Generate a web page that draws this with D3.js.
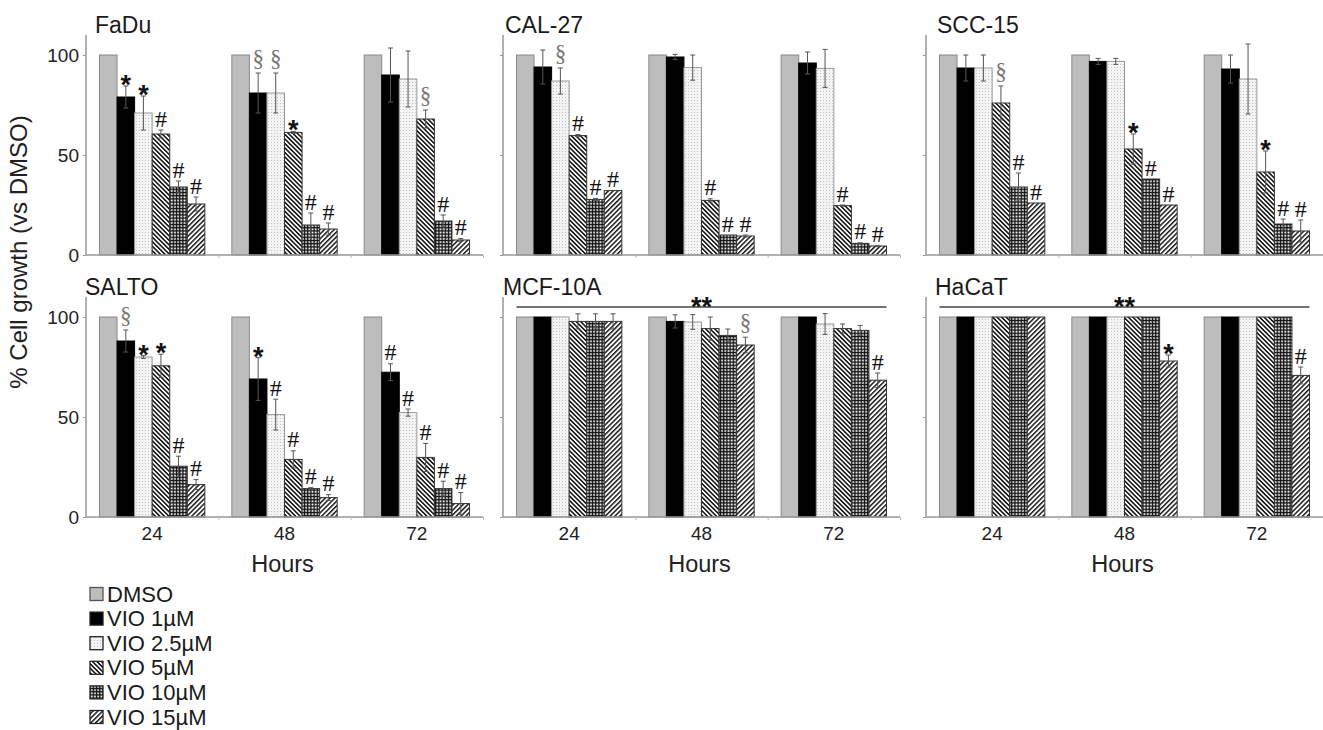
<!DOCTYPE html>
<html>
<head>
<meta charset="utf-8">
<script src="https://cdn.jsdelivr.net/npm/d3@7"></script>
<style>
html,body{margin:0;padding:0;background:#fff;}
svg{display:block;font-family:"Liberation Sans",Arial,Helvetica,sans-serif;}
</style>
</head>
<body>
<svg id="chart" width="1323" height="730"></svg>
<script>
// ---------- data ----------
const hours = ["24", "48", "72"];
const treatments = ["DMSO", "VIO 1\u00b5M", "VIO 2.5\u00b5M", "VIO 5\u00b5M", "VIO 10\u00b5M", "VIO 15\u00b5M"];
const cellLines = ["FaDu", "CAL-27", "SCC-15", "SALTO", "MCF-10A", "HaCaT"];
const yTicks = [0, 50, 100];

// values[hour][treatment]
const faduValues = [[100, 79, 71, 60.5, 34, 25.5], [100, 81, 81, 61.3, 15, 13], [100, 90, 88, 68, 17, 7.5]];
const faduErrors = [[0, 5.5, 8.5, 2, 3, 3.5], [0, 10, 10, 0.5, 6, 3], [0, 13.5, 14, 4.5, 3, 0.7]];
const faduMarks = [["", "*", "*", "#", "#", "#"], ["", "§", "§", "*", "#", "#"], ["", "", "", "§", "#", "#"]];

const cal27Values = [[100, 94, 87, 59.7, 27.8, 32.2], [100, 99, 93.7, 27.3, 10, 9.5], [100, 96, 93.3, 24.7, 5.8, 4.5]];
const cal27Errors = [[0, 8.5, 6.5, 0.5, 0.5, 0], [0, 1.3, 6.3, 0.8, 0, 0.5], [0, 5.5, 9.5, 0.3, 0.3, 0.3]];
const cal27Marks = [["", "", "§", "#", "#", "#"], ["", "", "", "#", "#", "#"], ["", "", "", "#", "#", "#"]];

const scc15Values = [[100, 93.5, 93.5, 76, 34, 26], [100, 96.8, 96.8, 53, 38, 25], [100, 93, 88, 41.5, 15.5, 12]];
const scc15Errors = [[0, 6.5, 6.5, 8.5, 7, 0], [0, 1.5, 1.5, 7.5, 0, 0], [0, 7, 17.5, 10.5, 2.5, 5.5]];
const scc15Marks = [["", "", "", "§", "#", "#"], ["", "", "", "*", "#", "#"], ["", "", "", "*", "#", "#"]];

const saltoValues = [[100, 88, 80, 75.6, 25.4, 16.2], [100, 69, 51.2, 28.8, 14.2, 9.7], [100, 72.4, 52.2, 29.8, 14.2, 6.7]];
const saltoErrors = [[0, 5.5, 0.7, 5.8, 5, 2.5], [0, 10.7, 7.7, 4.3, 0.5, 1.5], [0, 4.2, 1.8, 7, 3.7, 5.5]];
const saltoMarks = [["", "§", "*", "*", "#", "#"], ["", "*", "#", "#", "#", "#"], ["", "#", "#", "#", "#", "#"]];

const mcf10aValues = [[100, 100, 100, 97.8, 97.8, 97.8], [100, 97.8, 97.5, 94.2, 90.8, 86], [100, 100, 96.5, 94.2, 93.3, 68.4]];
const mcf10aErrors = [[0, 0, 0, 3.8, 3.8, 3.8], [0, 3.3, 3.7, 5.8, 3.2, 3.9], [0, 0, 5.2, 2.3, 2.5, 3.6]];
const mcf10aMarks = [["", "", "", "", "", ""], ["", "", "", "", "", "§"], ["", "", "", "", "", "#"]];

const hacatValues = [[100, 100, 100, 100, 100, 100], [100, 100, 100, 100, 100, 78], [100, 100, 100, 100, 100, 70.8]];
const hacatErrors = [[0, 0, 0, 0, 0, 0], [0, 0, 0, 0, 0, 3], [0, 0, 0, 0, 0, 4.2]];
const hacatMarks = [["", "", "", "", "", ""], ["", "", "", "", "", "*"], ["", "", "", "", "", "#"]];

const bracketLines = ["MCF-10A", "HaCaT"]; // "**" over whole panel

// ---------- layout ----------
const svg = d3.select("#chart");
const colX = [86, 503, 926];
const rowBase = [255, 517];
const panelW = 397;
const titleDx = [9, 2, 11, -1, 0, 9];
const fontSans = '"Liberation Sans",Arial,Helvetica,sans-serif';
const fontSerif = '"Liberation Serif","Times New Roman",serif';

const panels = [
  {v: faduValues, e: faduErrors, m: faduMarks},
  {v: cal27Values, e: cal27Errors, m: cal27Marks},
  {v: scc15Values, e: scc15Errors, m: scc15Marks},
  {v: saltoValues, e: saltoErrors, m: saltoMarks},
  {v: mcf10aValues, e: mcf10aErrors, m: mcf10aMarks},
  {v: hacatValues, e: hacatErrors, m: hacatMarks}
];

// ---------- patterns ----------
const defs = svg.append("defs");
// VIO 2.5: light dotted
let p = defs.append("pattern").attr("id", "pat2").attr("patternUnits", "userSpaceOnUse").attr("width", 3).attr("height", 3);
p.append("rect").attr("width", 3).attr("height", 3).attr("fill", "#f4f4f4");
p.append("rect").attr("x", 1).attr("y", 1).attr("width", 1).attr("height", 1).attr("fill", "#c4c4c4");
// VIO 5: backslash hatch
p = defs.append("pattern").attr("id", "pat3").attr("patternUnits", "userSpaceOnUse").attr("width", 3.2).attr("height", 3.2).attr("patternTransform", "rotate(-45)");
p.append("rect").attr("width", 3.2).attr("height", 3.2).attr("fill", "#fff");
p.append("rect").attr("width", 1.6).attr("height", 3.2).attr("fill", "#1a1a1a");
// VIO 10: grid
p = defs.append("pattern").attr("id", "pat4").attr("patternUnits", "userSpaceOnUse").attr("width", 3.2).attr("height", 3.2);
p.append("rect").attr("width", 3.2).attr("height", 3.2).attr("fill", "#111");
p.append("rect").attr("x", 1.2).attr("y", 1.2).attr("width", 1.8).attr("height", 1.8).attr("fill", "#fff");
// VIO 15: slash hatch
p = defs.append("pattern").attr("id", "pat5").attr("patternUnits", "userSpaceOnUse").attr("width", 3.4).attr("height", 3.4).attr("patternTransform", "rotate(45)");
p.append("rect").attr("width", 3.4).attr("height", 3.4).attr("fill", "#fff");
p.append("rect").attr("width", 1.5).attr("height", 3.4).attr("fill", "#1a1a1a");

const fills = ["#bdbdbd", "#000", "url(#pat2)", "url(#pat3)", "url(#pat4)", "url(#pat5)"];
const strokes = ["#8a8a8a", "#000", "#9a9a9a", "#333", "#333", "#333"];

// ---------- panels ----------
panels.forEach((pd, pi) => {
  const row = Math.floor(pi / 3), col = pi % 3;
  const x0 = colX[col], base = rowBase[row];
  const g = svg.append("g");
  const y = d3.scaleLinear().domain([0, 110]).range([base, base - 220]);
  const xg = d3.scaleBand().domain(hours).range([x0, x0 + panelW]);
  const bw = xg.bandwidth();
  const xt = d3.scaleBand().domain(d3.range(6)).range([13.5, bw - 13.5]);

  // bars
  hours.forEach((h, hi) => {
    const gx = xg(h);
    pd.v[hi].forEach((val, ti) => {
      g.append("rect")
        .attr("x", gx + xt(ti)).attr("y", y(val))
        .attr("width", xt.bandwidth()).attr("height", y(0) - y(val))
        .attr("fill", fills[ti]).attr("stroke", strokes[ti]).attr("stroke-width", 1);
    });
    // error bars
    pd.v[hi].forEach((val, ti) => {
      const err = pd.e[hi][ti];
      if (err <= 0) return;
      const cx = gx + xt(ti) + xt.bandwidth() / 2;
      const eg = g.append("g").attr("stroke", "#555").attr("stroke-width", 1);
      eg.append("line").attr("x1", cx).attr("x2", cx).attr("y1", y(val - err)).attr("y2", y(val + err));
      eg.append("line").attr("x1", cx - 2.5).attr("x2", cx + 2.5).attr("y1", y(val + err)).attr("y2", y(val + err));
      eg.append("line").attr("x1", cx - 2.5).attr("x2", cx + 2.5).attr("y1", y(val - err)).attr("y2", y(val - err));
    });
    // significance marks
    pd.m[hi].forEach((mk, ti) => {
      if (!mk) return;
      const cx = gx + xt(ti) + xt.bandwidth() / 2;
      const top = y(pd.v[hi][ti] + pd.e[hi][ti]);
      const t = g.append("text").attr("x", cx).attr("text-anchor", "middle").text(mk);
      if (mk === "*") {
        t.attr("y", top + 8).attr("font-family", fontSans).attr("font-weight", "bold").attr("font-size", 27).attr("fill", "#111");
      } else if (mk === "#") {
        t.attr("y", top - 3.5).attr("font-family", fontSerif).attr("font-size", 24).attr("fill", "#111");
      } else {
        t.attr("y", top - 7).attr("font-family", fontSerif).attr("font-size", 23).attr("fill", "#777");
      }
    });
  });

  // axes
  const yAxis = d3.axisLeft(y).tickValues(yTicks).tickSize(3).tickFormat(col === 0 ? d3.format("d") : () => "");
  const ya = g.append("g").attr("transform", `translate(${x0},0)`).call(yAxis);
  ya.select(".domain").attr("stroke", "#999").attr("stroke-width", 1.5).attr("d", `M-0,${y(110)}V${y(0)}`);
  ya.selectAll(".tick line").attr("stroke", "#999");
  ya.selectAll(".tick text").attr("font-family", fontSans).attr("font-size", 19).attr("fill", "#222").attr("dx", -1);

  const xs = d3.scaleLinear().domain([0, 3]).range([x0, x0 + panelW]);
  const xAxis = d3.axisBottom(xs).tickValues([1, 2, 3]).tickSize(3).tickFormat("");
  const xa = g.append("g").attr("transform", `translate(0,${y(0)})`).call(xAxis);
  xa.select(".domain").attr("stroke", "#999").attr("stroke-width", 1.5).attr("d", `M${x0},0H${x0 + panelW}`);
  xa.selectAll(".tick line").attr("stroke", "#bbb");

  if (row === 1) {
    hours.forEach(h => {
      g.append("text").attr("x", xg(h) + bw / 2).attr("y", base + 23)
        .attr("text-anchor", "middle").attr("font-family", fontSans).attr("font-size", 19).attr("fill", "#222").text(h);
    });
    g.append("text").attr("x", x0 + panelW / 2 - 2).attr("y", base + 55)
      .attr("text-anchor", "middle").attr("font-family", fontSans).attr("font-size", 23.5).attr("fill", "#222").text("Hours");
  }

  // title
  g.append("text").attr("x", x0 + titleDx[pi]).attr("y", base - 222)
    .attr("font-family", fontSans).attr("font-size", 23).attr("fill", "#1a1a1a").text(cellLines[pi]);

  // bracket with **
  if (bracketLines.includes(cellLines[pi])) {
    const lx1 = xg(hours[0]) + xt(0), lx2 = xg(hours[2]) + xt(5) + xt.bandwidth();
    const ly = y(105);
    g.append("line").attr("x1", lx1).attr("x2", lx2).attr("y1", ly).attr("y2", ly).attr("stroke", "#444").attr("stroke-width", 1.5);
    g.append("text").attr("x", (lx1 + lx2) / 2).attr("y", ly + 9).attr("text-anchor", "middle")
      .attr("font-family", fontSans).attr("font-weight", "bold").attr("font-size", 27).attr("fill", "#111").text("**");
  }
});

// y label
svg.append("text").attr("transform", "translate(27,252) rotate(-90)").attr("text-anchor", "middle")
  .attr("font-family", fontSans).attr("font-size", 24).attr("fill", "#222").text("% Cell growth (vs DMSO)");

// legend
const lg = svg.append("g");
treatments.forEach((t, i) => {
  const cy = 594 + i * 24.6;
  lg.append("rect").attr("x", 90).attr("y", cy - 6.5).attr("width", 13).attr("height", 13)
    .attr("fill", fills[i]).attr("stroke", i === 0 ? "#555" : "#222").attr("stroke-width", 1.3);
  lg.append("text").attr("x", 107).attr("y", cy + 7.5).attr("font-family", fontSans).attr("font-size", 22).attr("fill", "#1a1a1a").text(t);
});
</script>
</body>
</html>
